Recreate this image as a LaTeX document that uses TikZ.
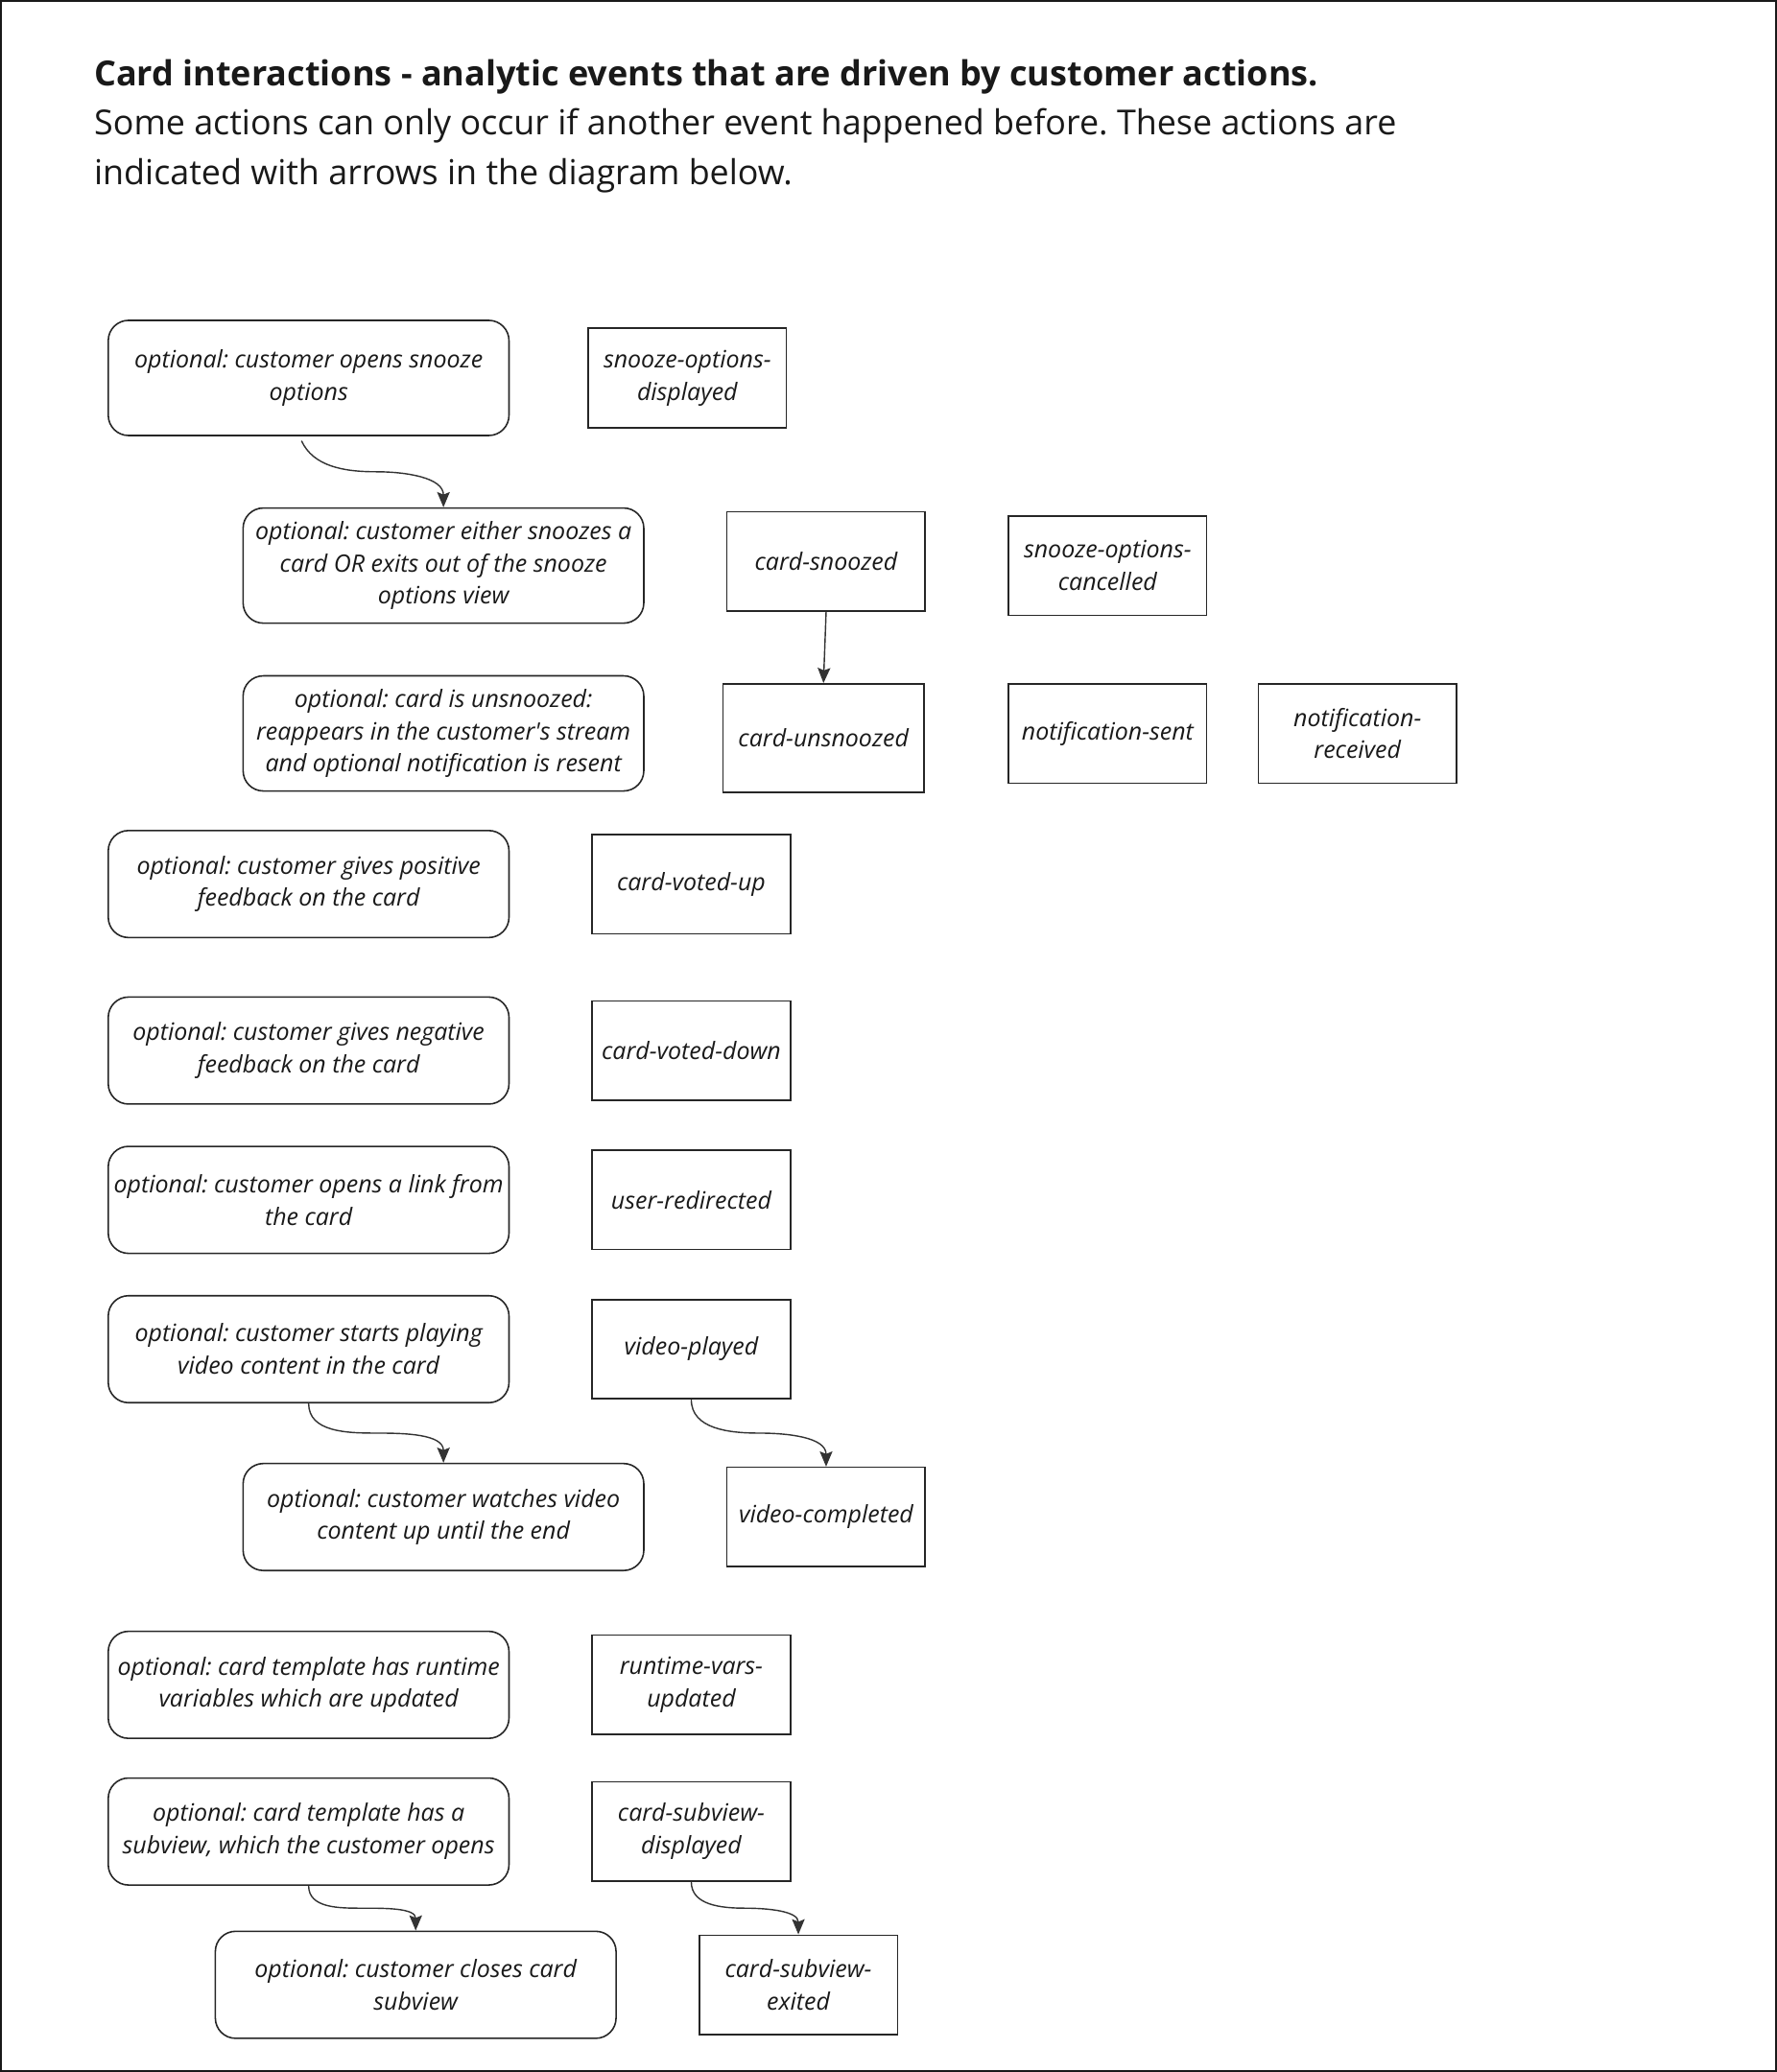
\documentclass[tikz,border=0pt]{standalone}
\usepackage{fontspec}
\setmainfont{Open Sans}
\usetikzlibrary{arrows.meta,calc}
\definecolor{inkgray}{HTML}{333333}
\frenchspacing
\tikzset{
  frameline/.style={black!90, line width=1.2pt},
  action/.style={draw=black!85, line width=0.9pt, rounded corners=12pt,
    minimum width=8.35cm, minimum height=2.23cm, align=center, inner sep=2pt,
    text=black!90, font=\itshape\fontsize{14.2}{19.2}\selectfont},
  tallaction/.style={action, minimum height=2.40cm},
  event/.style={draw=black!85, line width=0.9pt, minimum width=4.13cm,
    minimum height=2.07cm, align=center, inner sep=2pt,
    text=black!90, font=\itshape\fontsize{14.2}{19.2}\selectfont},
  flow/.style={inkgray, line width=0.8pt,
    -{Stealth[length=9pt, width=7.5pt, inset=1.5pt]}},
  headline/.style={anchor=base west, inner sep=0pt, text=black!90,
    font=\bfseries\fontsize{20.5}{29.8}\selectfont},
  bodyline/.style={anchor=base west, inner sep=0pt, text=black!90,
    font=\fontsize{20.4}{29.8}\selectfont},
}

\begin{document}
\begin{tikzpicture}[x=0.027544cm, y=-0.027544cm]
    \useasboundingbox (0,0) rectangle (1344,1568);
    \draw[frameline] (0.6,0.6) rectangle (1343.4,1567.4);
    % heading
    \node[headline] (title) at (71,65)
      {Card interactions - analytic events that are driven by customer actions.};
    \node[bodyline] (introa) at (71,102)
      {Some actions can only occur if another event happened before. These actions are};
    \node[bodyline] (introb) at (71,140)
      {indicated with arrows in the diagram below.};
    % customer actions
    \node[tallaction] (opensnooze) at (233.5,286)
      {optional: customer opens snooze\\options};
    \node[tallaction] (snoozeexit) at (335.5,428)
      {optional: customer either snoozes a\\card OR exits out of the snooze\\options view};
    \node[tallaction] (unsnooze) at (335.5,555)
      {optional: card is unsnoozed:\\reappears in the customer\textquotesingle s stream\\and optional notification is resent};
    \node[action] (voteup) at (233.5,669)
      {optional: customer gives positive\\feedback on the card};
    \node[action] (votedown) at (233.5,795)
      {optional: customer gives negative\\feedback on the card};
    \node[action] (openlink) at (233.5,908)
      {optional: customer opens a link from\\the card};
    \node[action] (playvideo) at (233.5,1021)
      {optional: customer starts playing\\video content in the card};
    \node[action] (watchvideo) at (335.5,1148)
      {optional: customer watches video\\content up until the end};
    \node[action] (runtimevars) at (233.5,1275)
      {optional: card template has runtime\\variables which are updated};
    \node[action] (opensubview) at (233.5,1386)
      {optional: card template has a\\subview, which the customer opens};
    \node[action] (closesubview) at (314.5,1502)
      {optional: customer closes card\\subview};
    % analytic events
    \node[event] (evdisplayed) at (520,286) {snooze-options-\\displayed};
    \node[event] (evsnoozed) at (625,425) {card-snoozed};
    \node[event] (evcancelled) at (838,428) {snooze-options-\\cancelled};
    \node[event, minimum width=4.19cm, minimum height=2.26cm]
      (evunsnoozed) at (623,558.5) {card-unsnoozed};
    \node[event] (evsent) at (838,555) {notification-sent};
    \node[event] (evreceived) at (1027,555) {notification-\\received};
    \node[event] (evup) at (523,669) {card-voted-up};
    \node[event] (evdown) at (523,795) {card-voted-down};
    \node[event] (evredirect) at (523,908) {user-redirected};
    \node[event] (evplayed) at (523,1021) {video-played};
    \node[event] (evcompleted) at (625,1148) {video-completed};
    \node[event] (evruntime) at (523,1275) {runtime-vars-\\updated};
    \node[event] (evsubshown) at (523,1386) {card-subview-\\displayed};
    \node[event] (evsubexit) at (604,1502) {card-subview-\\exited};
    % dependencies
    \draw[flow, shorten <=3pt] ([xshift=-5.5]opensnooze.south)
      to[out=-65, in=180] ($(opensnooze.south)!0.5!(snoozeexit.north)$)
      to[out=0, in=90] (snoozeexit.north);
    \draw[flow] (evsnoozed.south) -- (evunsnoozed.north);
    \draw[flow] (playvideo.south)
      to[out=-90, in=180] ($(playvideo.south)!0.5!(watchvideo.north)$)
      to[out=0, in=90] (watchvideo.north);
    \draw[flow] (evplayed.south)
      to[out=-90, in=180] ($(evplayed.south)!0.5!(evcompleted.north)$)
      to[out=0, in=90] (evcompleted.north);
    \draw[flow] (opensubview.south)
      to[out=-90, in=180] ($(opensubview.south)!0.5!(closesubview.north)$)
      to[out=0, in=90] (closesubview.north);
    \draw[flow] (evsubshown.south)
      to[out=-90, in=180] ($(evsubshown.south)!0.5!(evsubexit.north)$)
      to[out=0, in=90] (evsubexit.north);
\end{tikzpicture}
\end{document}
